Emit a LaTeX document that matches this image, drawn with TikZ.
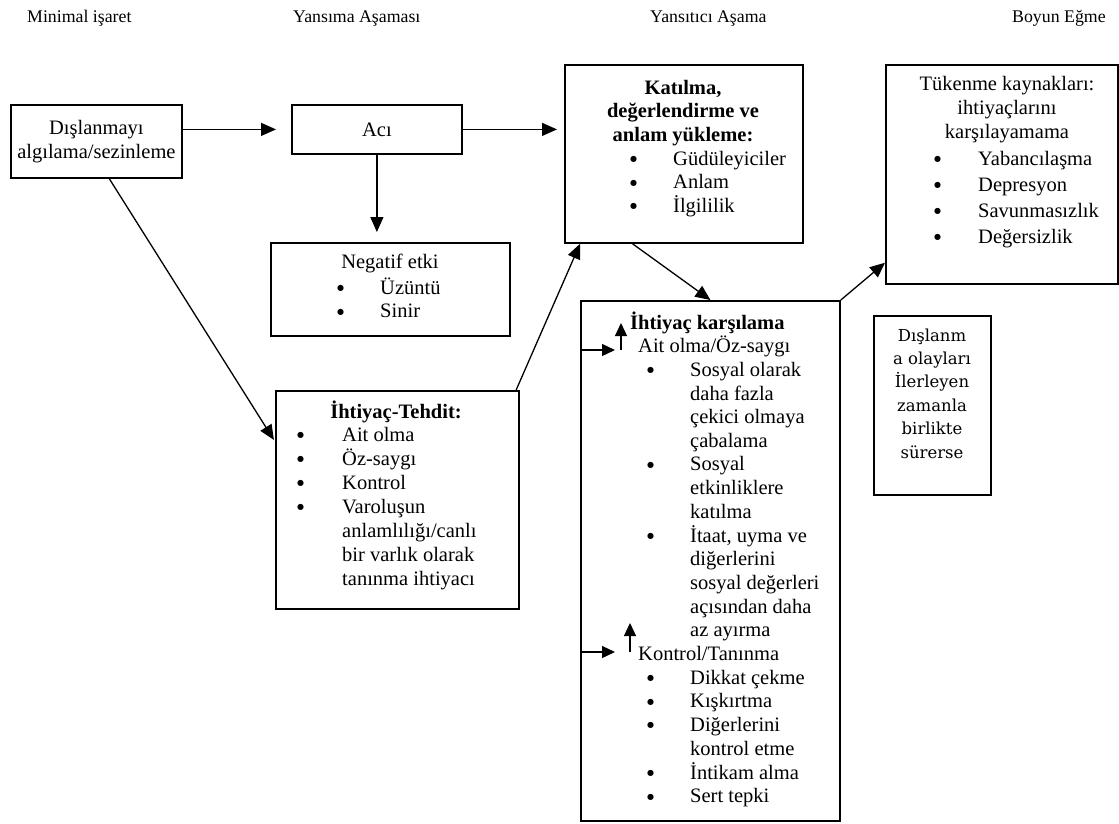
\documentclass[tikz,border=0pt]{standalone}
\usepackage{fontspec}
\setmainfont{Liberation Serif}
\newfontfamily\sidefont{DejaVu Serif}
\newfontfamily\dotfont{DejaVu Sans}
\usetikzlibrary{arrows.meta,calc}

% round bullet followed by a fixed indent
\newcommand\bul[1]{\makebox[#1][l]{\raisebox{3.5pt}{\dotfont\fontsize{8}{8}\selectfont ●}}}

\begin{document}
\begin{tikzpicture}[x=1pt,y=-1pt,
  box/.style={draw, line width=1.8pt, inner sep=0pt, anchor=north west},
  txt/.style={inner sep=0pt, font=\fontsize{20.5}{23.5}\selectfont},
  head/.style={inner sep=0pt, anchor=base west, font=\fontsize{17.8}{21}\selectfont},
  link/.style={line width=1.3pt, -{Triangle[length=15pt,width=13pt]}},
  minor/.style={line width=1.3pt, -{Triangle[length=13pt,width=12pt]}}]

\fill[white] (0,0) rectangle (1119,823);
\useasboundingbox (0,0) rectangle (1119,823);

% stage headings
\node[head] (h1) at (27,22) {Minimal işaret};
\node[head] (h2) at (293,22) {Yansıma Aşaması};
\node[head] (h3) at (650,22) {Yansıtıcı Aşama};
\node[head] (h4) at (1012,22) {Boyun Eğme};

% perception of exclusion
\node[box, txt, align=center, minimum width=171pt, minimum height=73pt] (A) at (10,104)
  {Dışlanmayı\\algılama/sezinleme};

% pain
\node[box, txt, minimum width=170pt, minimum height=49pt] (B) at (291,104) {Acı};

% negative affect
\node[box, minimum width=239pt, minimum height=93pt] (N) at (270,242) {};
\node[txt, anchor=base] (Nt) at (390,268) {Negatif etki};
\node[txt, anchor=base west] (Nl) at (337,294)
  {\begin{tabular}[t]{@{}l@{}}\bul{43pt}Üzüntü\\ \bul{43pt}Sinir\end{tabular}};

% need threat
\node[box, minimum width=243pt, minimum height=218pt] (T) at (275,390) {};
\node[txt, anchor=base] (Tt) at (396,418) {\bfseries İhtiyaç-Tehdit:};
\node[txt, anchor=base west, font=\fontsize{20.5}{24}\selectfont] (Tl) at (297,441)
  {\begin{tabular}[t]{@{}l@{}}
   \bul{45pt}Ait olma\\
   \bul{45pt}Öz-saygı\\
   \bul{45pt}Kontrol\\
   \bul{45pt}Varoluşun\\
   \hspace*{45pt}anlamlılığı/canlı\\
   \hspace*{45pt}bir varlık olarak\\
   \hspace*{45pt}tanınma ihtiyacı
   \end{tabular}};

% attribution and appraisal
\node[box, minimum width=238pt, minimum height=178pt] (K) at (564,64) {};
\node[txt, anchor=base] (Kt) at (683,94)
  {\bfseries\begin{tabular}[t]{@{}c@{}}Katılma,\\değerlendirme ve\\anlam yükleme:\end{tabular}};
\node[txt, anchor=base west] (Kl) at (630,165)
  {\begin{tabular}[t]{@{}l@{}}
   \bul{43pt}Güdüleyiciler\\
   \bul{43pt}Anlam\\
   \bul{43pt}İlgililik
   \end{tabular}};

% resignation
\node[box, minimum width=232pt, minimum height=219pt] (R) at (885,64) {};
\node[txt, anchor=base, font=\fontsize{20.5}{24}\selectfont] (Rt) at (1007,90)
  {\begin{tabular}[t]{@{}c@{}}Tükenme kaynakları:\\ihtiyaçlarını\\karşılayamama\end{tabular}};
\node[txt, anchor=base west, font=\fontsize{20.5}{26}\selectfont] (Rl) at (934,165)
  {\begin{tabular}[t]{@{}l@{}}
   \bul{44pt}Yabancılaşma\\
   \bul{44pt}Depresyon\\
   \bul{44pt}Savunmasızlık\\
   \bul{44pt}Değersizlik
   \end{tabular}};

% need fortification
\node[box, minimum width=259pt, minimum height=520pt] (M) at (580,300) {};
\node[txt, anchor=base west, font=\fontsize{20.5}{23.65}\selectfont] (Ml) at (630,329)
  {\begin{tabular}[t]{@{}l@{}}
   \textbf{İhtiyaç karşılama}\\
   \hspace*{8pt}Ait olma/Öz-saygı\\
   \hspace*{17pt}\bul{43pt}Sosyal olarak\\
   \hspace*{60pt}daha fazla\\
   \hspace*{60pt}çekici olmaya\\
   \hspace*{60pt}çabalama\\
   \hspace*{17pt}\bul{43pt}Sosyal\\
   \hspace*{60pt}etkinliklere\\
   \hspace*{60pt}katılma\\
   \hspace*{17pt}\bul{43pt}İtaat, uyma ve\\
   \hspace*{60pt}diğerlerini\\
   \hspace*{60pt}sosyal değerleri\\
   \hspace*{60pt}açısından daha\\
   \hspace*{60pt}az ayırma\\
   \hspace*{8pt}Kontrol/Tanınma\\
   \hspace*{17pt}\bul{43pt}Dikkat çekme\\
   \hspace*{17pt}\bul{43pt}Kışkırtma\\
   \hspace*{17pt}\bul{43pt}Diğerlerini\\
   \hspace*{60pt}kontrol etme\\
   \hspace*{17pt}\bul{43pt}İntikam alma\\
   \hspace*{17pt}\bul{43pt}Sert tepki
   \end{tabular}};

% persistent exclusion note
\node[box, minimum width=117pt, minimum height=179pt] (D) at (873,315) {};
\node[inner sep=0pt, anchor=base, font=\sidefont\fontsize{16.5}{23.4}\selectfont] (Dt) at (932,341)
  {\begin{tabular}[t]{@{}c@{}}Dışlanm\\a olayları\\İlerleyen\\zamanla\\birlikte\\sürerse\end{tabular}};

% small markers inside the fortification box
\coordinate (m1) at (615,350);
\coordinate (m1a) at (621,350);
\coordinate (m1b) at (621,323);
\coordinate (m2) at (615,652);
\coordinate (m2a) at (630,652);
\coordinate (m2b) at (630,623);
\draw[minor] (M.west |- m1) -- (m1);
\draw[minor] (m1a) -- (m1b);
\draw[minor] (M.west |- m2) -- (m2);
\draw[minor] (m2a) -- (m2b);

% connectors
\draw[link, shorten >=15pt] (A.east |- B.west) -- (B.west);
\draw[link, shorten >=7pt] (B.east) -- (K.west |- B.east);
\draw[link, shorten >=10pt] (B.south) -- (N.north -| B.south);
\draw[link, shorten >=2pt] ($(A.south west)!0.575!(A.south east)$) -- ($(T.north west)!0.235!(T.south west)$);
\draw[link] ($(T.north west)!0.985!(T.north east)$) -- ($(K.south west)!0.067!(K.south east)$);
\draw[link] ($(K.south west)!0.286!(K.south east)$) -- (M.north);
\draw[link] (M.north east) -- ($(R.north west)!0.9!(R.south west)$);

\end{tikzpicture}
\end{document}
